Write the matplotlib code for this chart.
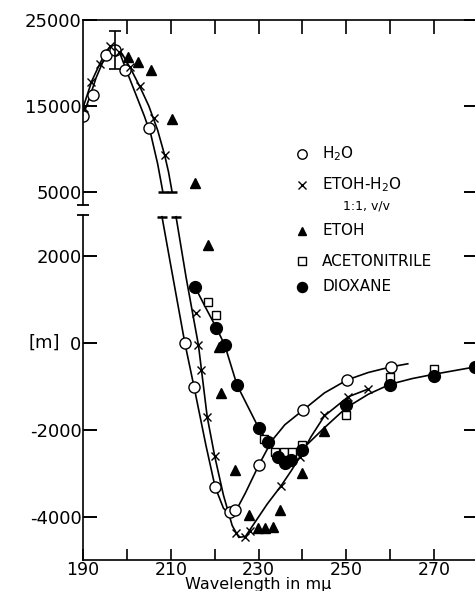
import matplotlib
matplotlib.use("Agg")
import matplotlib.pyplot as plt
from matplotlib.lines import Line2D

# ---------------- data ----------------
# H2O (open circles)
h2o_x_up = [190.0, 192.3, 195.2, 197.3, 199.6, 205.0]
h2o_y_up = [13840, 16280, 20930, 21510, 19190, 12440]
h2o_x_lo = [213.2, 215.3, 220.1, 223.4, 224.7, 230.1, 240.2, 250.2, 260.2]
h2o_y_lo = [0, -1010, -3310, -3890, -3840, -2800, -1540, -850, -550]

# EtOH-H2O 1:1 (x marks)
mix_x_up = [190.3, 191.8, 193.8, 196.2, 198.3, 200.6, 202.9, 206.2, 208.6]
mix_y_up = [14800, 17790, 19880, 21980, 21280, 19530, 17330, 13600, 9300]
mix_x_lo = [215.8, 216.3, 216.8, 218.3, 220.0, 224.8, 226.9, 228.0, 235.1, 239.4, 245.0, 250.4, 255.0]
mix_y_lo = [690, -50, -620, -1700, -2600, -4380, -4460, -4320, -3290, -2620, -1660, -1240, -1060]

# EtOH (filled triangles)
etoh_x_up = [200.3, 202.6, 205.4, 210.3, 215.5]
etoh_y_up = [20700, 20100, 19200, 13500, 6050]
etoh_x_lo = [218.4, 220.9, 221.5, 224.6, 227.9, 229.8, 231.4, 233.2, 235.0, 240.0, 245.0]
etoh_y_lo = [2250, -90, -1150, -2920, -3950, -4250, -4250, -4230, -3840, -2990, -2020]

# Acetonitrile (open squares)
acn_x = [218.5, 220.4, 231.3, 233.7, 235.7, 237.6, 239.8, 250.0, 260.0, 270.0]
acn_y = [940, 640, -2200, -2500, -2500, -2500, -2350, -1660, -780, -600]

# Dioxane (filled circles)
dio_x = [215.5, 220.4, 222.3, 225.1, 230.0, 232.1, 234.5, 236.0, 237.5, 239.8, 250.0, 260.0, 270.0, 279.3]
dio_y = [1290, 345, -50, -970, -1950, -2280, -2620, -2760, -2680, -2460, -1430, -960, -760, -550]

# error bar at the maximum
err_x = [197.4]
err_y = [21510]
err_e = [2210]

# hand-drawn curves (vertices)
h2o_cu_x = [190, 191.5, 193, 195, 197, 198.5, 200, 202, 204, 205.5, 207, 208.2]
h2o_cu_y = [13900, 16000, 18300, 20700, 21600, 21000, 19000, 16400, 13800, 11600, 8300, 5000]
mix_cu_x = [190, 192, 194, 196, 197.5, 199, 201, 203, 205, 207, 208.6, 209.5, 210.3]
mix_cu_y = [14800, 17900, 20100, 21800, 22000, 21000, 19200, 17200, 15000, 12200, 9300, 7300, 5000]
h2o_cl_x = [208.0, 210, 213.2, 215.3, 218, 220.1, 222, 223.5, 225, 227, 230.1, 233, 236, 240.2, 245, 250.2, 255, 260.2, 264]
h2o_cl_y = [2900, 1780, 0, -1010, -2350, -3310, -3800, -3950, -3830, -3450, -2800, -2250, -1880, -1540, -1150, -850, -680, -550, -480]
mix_cl_x = [211.2, 213.5, 216.3, 218.3, 220, 222, 224, 225.5, 227, 229, 232, 235.1, 237.5, 239.4, 242, 245, 250.4, 255]
mix_cl_y = [2900, 1500, -50, -1700, -2600, -3500, -4200, -4470, -4450, -4150, -3700, -3290, -2930, -2620, -2150, -1680, -1240, -1060]
dio_cl_x = [215.5, 218, 220.4, 222.3, 225.1, 228, 230, 232.1, 234.5, 236, 237.5, 239.8, 245, 250, 255, 260, 265, 270, 275, 280]
dio_cl_y = [1290, 800, 345, -50, -970, -1550, -1950, -2280, -2600, -2720, -2680, -2460, -1950, -1490, -1180, -950, -820, -720, -630, -540]

# ticks
top_yticks = [5000, 15000, 25000]
top_ylabels = ["5000", "15000", "25000"]
bot_yticks = [-4000, -2000, 0, 2000]
bot_ylabels = ["-4000", "-2000", "0", "2000"]
xticks = [190, 200, 210, 220, 230, 240, 250, 260, 270, 280]
xlabels = ["190", "", "210", "", "230", "", "250", "", "270", ""]

legend_labels = ["H$_2$O", "ETOH-H$_2$O", "ETOH", "ACETONITRILE", "DIOXANE"]

# ---------------- figure ----------------
W, H = 475, 591
fig = plt.figure(figsize=(W / 100, H / 100), dpi=100)
L, R = 83 / W, 478 / W
ax_t = fig.add_axes([L, 1 - 205 / H, R - L, (205 - 20) / H])
ax_b = fig.add_axes([L, 1 - 560 / H, R - L, (560 - 215) / H])

FS = 13
lw_sp = 1.2
for ax in (ax_t, ax_b):
    ax.set_xlim(190, 280)
    ax.set_facecolor("none")
    for s in ax.spines.values():
        s.set_linewidth(lw_sp)
ax_t.set_ylim(3490, 25000)
ax_b.set_ylim(-4990, 2940)
ax_t.spines["bottom"].set_visible(False)
ax_b.spines["top"].set_visible(False)

ax_t.set_yticks(top_yticks)
ax_t.set_yticklabels(top_ylabels)
ax_t.set_xticks(xticks[1:])
ax_t.tick_params(axis="x", which="both", direction="in", top=True, bottom=False,
                 labeltop=False, labelbottom=False, length=10, width=1.2)
ax_t.tick_params(axis="y", direction="in", left=True, right=True, length=10, width=1.4,
                 labelsize=FS, pad=1)

ax_b.set_yticks(bot_yticks)
ax_b.set_yticklabels(bot_ylabels)
ax_b.set_xticks(xticks)
ax_b.set_xticklabels(xlabels)
ax_b.tick_params(axis="x", direction="in", top=False, bottom=True, length=8, width=1.2,
                 labelsize=12.5, pad=1)
ax_b.tick_params(axis="y", direction="in", left=True, right=True, length=10, width=1.4,
                 labelsize=FS, pad=1)

# broken-axis caps on the left spine
ax_t.plot([0], [0], marker="_", ms=9, mew=1.3, color="k", transform=ax_t.transAxes, clip_on=False)
ax_b.plot([0], [1], marker="_", ms=9, mew=1.3, color="k", transform=ax_b.transAxes, clip_on=False)

lw = 1.2
# curves
for ax, cx, cy, cap in [(ax_t, h2o_cu_x, h2o_cu_y, -1), (ax_t, mix_cu_x, mix_cu_y, -1),
                        (ax_b, h2o_cl_x, h2o_cl_y, 0), (ax_b, mix_cl_x, mix_cl_y, 0)]:
    ax.plot(cx, cy, color="k", lw=lw)
    ax.plot([cx[cap]], [cy[cap]], marker="_", ms=7, mew=1.8, color="k")
ax_b.plot(dio_cl_x, dio_cl_y, color="k", lw=lw)

# markers
circ = dict(marker="o", ms=8, mfc="white", mec="k", mew=1.0, ls="none")
cross = dict(marker="x", ms=6, mec="k", mew=1.0, ls="none")
tri = dict(marker="^", ms=7.5, color="k", ls="none")
sq = dict(marker="s", ms=6, mfc="white", mec="k", mew=1.0, ls="none")
dot = dict(marker="o", ms=8.5, color="k", ls="none")

ax_t.plot(h2o_x_up, h2o_y_up, **circ)
ax_b.plot(h2o_x_lo, h2o_y_lo, **circ)
ax_t.plot(mix_x_up, mix_y_up, **cross)
ax_b.plot(mix_x_lo, mix_y_lo, **cross)
ax_t.plot(etoh_x_up, etoh_y_up, **tri)
ax_b.plot(etoh_x_lo, etoh_y_lo, **tri)
ax_b.plot(acn_x, acn_y, **sq)
ax_b.plot(dio_x, dio_y, **dot)
ax_t.errorbar(err_x, err_y, yerr=err_e, fmt="none", ecolor="k", elinewidth=1.2, capsize=4, capthick=1.2)

# manual legend (figure pixel positions)
def fx(px):
    return px / W
def fy(py):
    return 1 - py / H

leg_rows = [154, 185, 231, 261, 287]
leg_styles = [circ, cross, tri, sq, dot]
for lab, row, st in zip(legend_labels, leg_rows, leg_styles):
    st2 = dict(st)
    st2["ms"] = st2["ms"] * 0.85
    fig.add_artist(Line2D([fx(302)], [fy(row)], **st2))
    fig.text(fx(322), fy(row), lab, fontsize=11, va="center", ha="left")
fig.text(fx(343), fy(206), "1:1, v/v", fontsize=9, va="center", ha="left")

# axis labels
fig.text(fx(29), fy(343), "[m]", fontsize=FS, va="center", ha="left")
fig.text(fx(258), fy(584), "Wavelength in m\u03bc", fontsize=11.5, va="center", ha="center")

fig.savefig("out.png", dpi=100)
